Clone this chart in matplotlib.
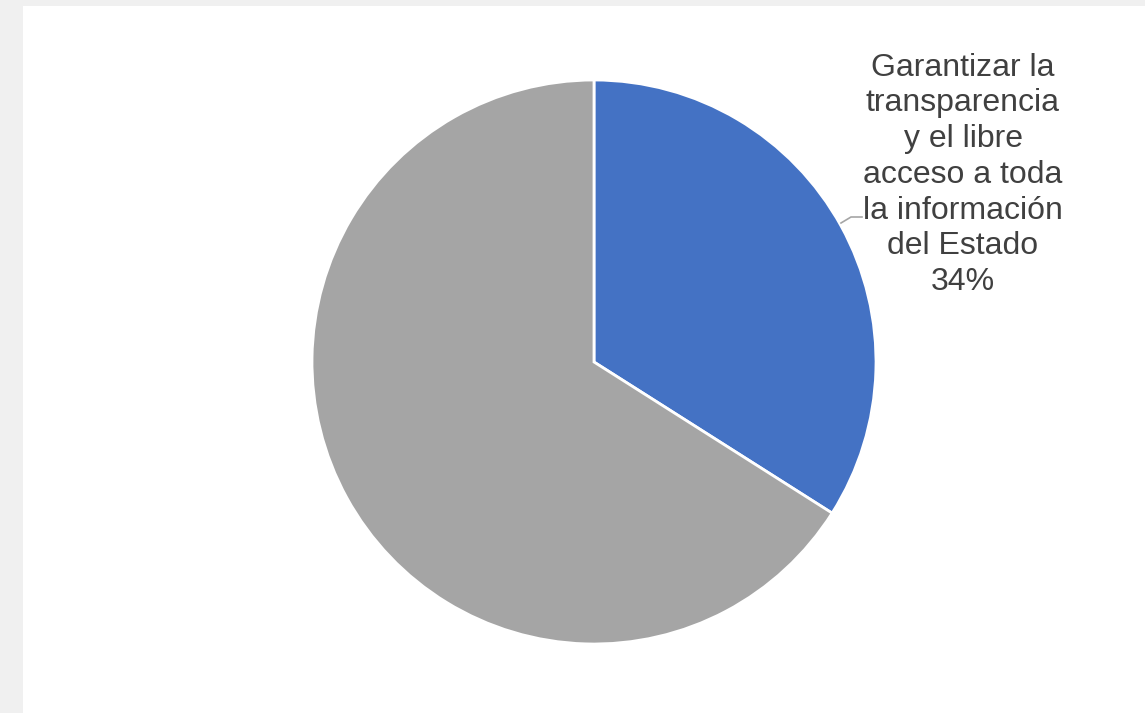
import matplotlib.pyplot as plt
from matplotlib.patches import Rectangle

# Data
labels = ['Garantizar la\ntransparencia\ny el libre\nacceso a toda\nla información\ndel Estado', '']
values = [34, 66]
colors = ['#4472c4', '#a5a5a5']

W, H = 1145, 713
fig = plt.figure(figsize=(W / 100, H / 100), dpi=100, facecolor='#f0f0f0')
fig.patches.append(Rectangle((23 / W, 0), 1, 1 - 6 / H, transform=fig.transFigure,
                             facecolor='white', edgecolor='none', zorder=-10))

ax = fig.add_axes([0, 0, 1, 1])
ax.set_xlim(0, W)
ax.set_ylim(0, H)
ax.axis('off')

cx, cy, r = 594, H - 362, 282
wedges, _ = ax.pie(values, colors=colors, startangle=90, counterclock=False,
                   center=(cx, cy), radius=r,
                   wedgeprops=dict(edgecolor='white', linewidth=2))
ax.set_xlim(0, W)
ax.set_ylim(0, H)

# label for the blue slice
ax.text(963, H - 175, labels[0] + '\n' + f'{values[0]}%', ha='center', va='center',
        fontsize=23, color='#404040', family='Liberation Sans', linespacing=1.25)
ax.plot([841, 851, 862], [H - 223, H - 217, H - 217], color='#a5a5a5', lw=1.2)

fig.savefig('out.png', dpi=100, facecolor=fig.get_facecolor())
